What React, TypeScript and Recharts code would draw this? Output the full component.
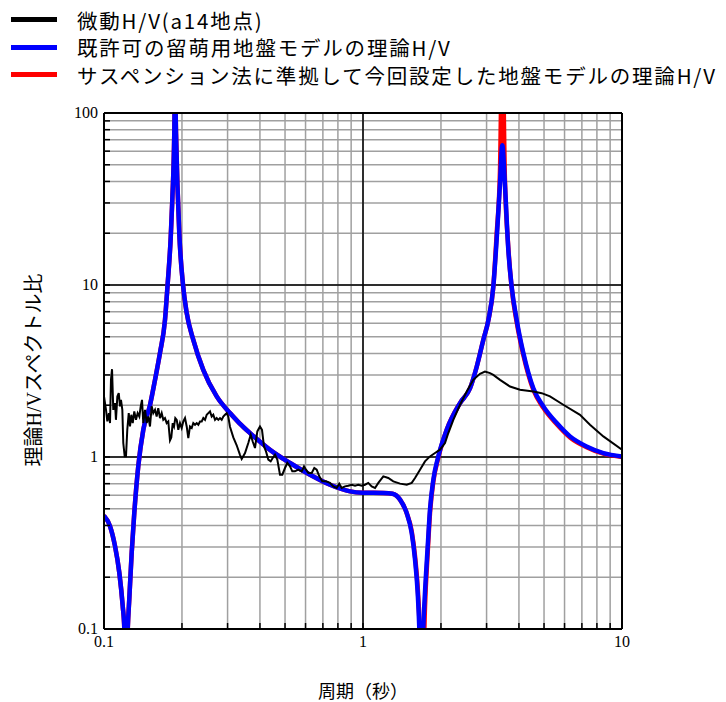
import { LineChart, Line, XAxis, YAxis, CartesianGrid, ReferenceLine } from 'recharts'

// axis ticks (log-log, 0.1-10 s / 0.1-100)
const xTicks = [0.1, 0.2, 0.3, 0.4, 0.5, 0.6, 0.7, 0.8, 0.9, 1, 2, 3, 4, 5, 6, 7, 8, 9, 10]
const yTicks = [
    0.1, 0.2, 0.3, 0.4, 0.5, 0.6, 0.7, 0.8, 0.9,
    1, 2, 3, 4, 5, 6, 7, 8, 9,
    10, 20, 30, 40, 50, 60, 70, 80, 90, 100,
]
const xLabelTicks = [0.1, 1, 10]
const yLabelTicks = [0.1, 1, 10, 100]
const majorX = [1]
const majorY = [1, 10]

// theoretical H/V, periods shared by both models
const theoryPeriods = [
    0.1, 0.1055, 0.1103, 0.1146, 0.1181, 0.1198, 0.1215, 0.1235, 0.1252, 0.1279,
    0.1309, 0.1356, 0.1418, 0.1505, 0.1574, 0.1645, 0.172, 0.176, 0.181, 0.1835,
    0.1868, 0.188, 0.1897, 0.1953, 0.2019, 0.2086, 0.2212, 0.2417, 0.2723, 0.3065,
    0.333, 0.3662, 0.4375, 0.5226, 0.6245, 0.746, 0.891, 1.0, 1.2, 1.3,
    1.39, 1.474, 1.542, 1.588, 1.626, 1.65, 1.68, 1.709, 1.735, 1.778,
    1.814, 1.869, 1.953, 2.105, 2.37, 2.59, 2.75, 2.915, 3.05, 3.185,
    3.28, 3.38, 3.45, 3.53, 3.64, 3.75, 3.92, 4.16, 4.55, 4.97,
    5.6, 6.3, 7.3, 8.47, 10,
]
// 既許可の留萌用地盤モデル (blue)
const permittedModel = [
    0.456, 0.396, 0.303, 0.212, 0.136, 0.1005, 0.04, 0.1, 0.149, 0.277,
    0.473, 0.882, 1.44, 2.0, 2.81, 4.03, 6.27, 10, 19, 31,
    76, 150, 76, 20, 10, 6.88, 4.8, 3.21, 2.25, 1.8,
    1.575, 1.378, 1.1, 0.923, 0.789, 0.69, 0.631, 0.62, 0.618, 0.612,
    0.565, 0.473, 0.362, 0.2535, 0.1625, 0.1, 0.03, 0.1, 0.1625, 0.303,
    0.494, 0.738, 1.008, 1.44, 2.06, 2.51, 3.36, 4.8, 6.27, 9.77,
    18.2, 38.9, 65, 38.9, 16, 9.77, 6.27, 4.02, 2.5, 1.97,
    1.575, 1.318, 1.152, 1.054, 1.008,
]
// サスペンション法に準拠した地盤モデル (red)
const suspensionModel = [
    0.456, 0.396, 0.303, 0.212, 0.136, 0.1005, 0.04, 0.1, 0.149, 0.277,
    0.473, 0.882, 1.44, 2.0, 2.81, 4.03, 6.27, 10, 19, 31,
    76, 150, 76, 20, 10, 6.88, 4.8, 3.21, 2.25, 1.8,
    1.575, 1.378, 1.1, 0.923, 0.789, 0.69, 0.631, 0.62, 0.618, 0.612,
    0.565, 0.473, 0.37, 0.265, 0.175, 0.115, 0.045, 0.06, 0.135, 0.28,
    0.47, 0.72, 0.99, 1.44, 2.06, 2.51, 3.36, 4.8, 6.27, 9.77,
    19.5, 46, 250, 42, 16.5, 9.6, 6.1, 3.92, 2.45, 1.93,
    1.55, 1.3, 1.14, 1.045, 1.0,
]

// 微動H/V (a14地点)
const microPeriods = [
    0.1, 0.1018, 0.103, 0.1045, 0.1055, 0.1064, 0.1074, 0.1086, 0.1103, 0.1112,
    0.1126, 0.114, 0.1153, 0.1163, 0.1177, 0.1187, 0.1202, 0.1216, 0.123, 0.1246,
    0.126, 0.1275, 0.1291, 0.1309, 0.1329, 0.1349, 0.1369, 0.1386, 0.1402, 0.1418,
    0.144, 0.1462, 0.1483, 0.1505, 0.1528, 0.155, 0.1574, 0.1597, 0.162, 0.1645,
    0.167, 0.1694, 0.172, 0.1746, 0.1771, 0.1798, 0.1819, 0.1842, 0.1864, 0.1885,
    0.1909, 0.1936, 0.1965, 0.1995, 0.2024, 0.2055, 0.2086, 0.2116, 0.2148, 0.2181,
    0.2212, 0.2246, 0.228, 0.2313, 0.2348, 0.2384, 0.2418, 0.2455, 0.2492, 0.2528,
    0.2566, 0.2605, 0.2642, 0.2683, 0.2723, 0.2763, 0.2804, 0.2847, 0.2888, 0.2932,
    0.2977, 0.3019, 0.3065, 0.3157, 0.3253, 0.335, 0.3401, 0.3503, 0.3607, 0.3685,
    0.3751, 0.3828, 0.3908, 0.4002, 0.4074, 0.4147, 0.4222, 0.4309, 0.4401, 0.448,
    0.4573, 0.4668, 0.4781, 0.488, 0.4998, 0.5102, 0.5226, 0.5333, 0.5463, 0.5626,
    0.5799, 0.5919, 0.6025, 0.615, 0.6339, 0.6486, 0.6625, 0.6781, 0.6964, 0.7195,
    0.7456, 0.768, 0.7914, 0.8098, 0.8274, 0.852, 0.8774, 0.9044, 0.9314, 0.9592,
    0.9886, 1.018, 1.048, 1.08, 1.113, 1.146, 1.198, 1.252, 1.309, 1.39,
    1.475, 1.542, 1.588, 1.66, 1.735, 1.814, 1.897, 1.983, 2.073, 2.135,
    2.232, 2.369, 2.515, 2.666, 2.83, 2.958, 3.093, 3.185, 3.381, 3.695,
    4.038, 4.545, 4.897, 5.272, 5.934, 6.884, 7.522, 8.472, 10,
]
const microHV = [
    2.25, 1.88, 1.61, 1.8, 1.575, 2.81, 3.24, 1.88, 2.06, 1.645,
    2.25, 2.35, 1.97, 2.15, 1.88, 1.206, 1.01, 1.01, 1.44, 1.8,
    1.505, 1.76, 1.575, 1.84, 1.645, 1.8, 1.72, 1.97, 2.15, 1.575,
    1.88, 1.575, 1.72, 1.505, 1.97, 1.8, 1.88, 1.72, 1.925, 1.684,
    1.8, 1.645, 1.684, 1.575, 1.61, 1.25, 1.3, 1.575, 1.505, 1.684,
    1.645, 1.44, 1.575, 1.474, 1.61, 1.684, 1.505, 1.289, 1.505, 1.474,
    1.575, 1.54, 1.575, 1.54, 1.61, 1.61, 1.684, 1.645, 1.76, 1.8,
    1.84, 1.72, 1.76, 1.645, 1.684, 1.645, 1.684, 1.645, 1.72, 1.76,
    1.8, 1.72, 1.5, 1.3, 1.17, 1.03, 0.975, 1.055, 1.206, 1.347,
    1.23, 1.128, 1.408, 1.505, 1.44, 1.152, 1.078, 0.965, 0.943, 0.987,
    1.031, 0.965, 0.789, 0.789, 0.863, 0.923, 0.882, 0.825, 0.825, 0.844,
    0.825, 0.882, 0.844, 0.808, 0.808, 0.863, 0.844, 0.772, 0.722, 0.722,
    0.707, 0.675, 0.661, 0.7, 0.661, 0.675, 0.681, 0.69, 0.681, 0.69,
    0.681, 0.69, 0.707, 0.675, 0.661, 0.707, 0.772, 0.755, 0.722, 0.7,
    0.69, 0.707, 0.755, 0.844, 0.943, 1.008, 1.055, 1.103, 1.206, 1.378,
    1.645, 2.012, 2.403, 2.81, 3.044, 3.14, 3.073, 3.004, 2.81, 2.57,
    2.458, 2.403, 2.35, 2.25, 2.012, 1.76, 1.54, 1.317, 1.103,
]

const legendItems = [
    { label: '微動H/V(a14地点)', color: '#000000' },
    { label: '既許可の留萌用地盤モデルの理論H/V', color: '#0000ff' },
    { label: 'サスペンション法に準拠して今回設定した地盤モデルの理論H/V', color: '#ff0000' },
]

const toPoints = (ts: number[], vs: number[]) => ts.map((t, i) => ({ t, v: vs[i] }))

const serif = 'Liberation Serif, serif'
const titleFont = 'Liberation Serif, Noto Sans CJK JP, serif'
const gothic = 'Noto Sans CJK JP, Noto Sans, sans-serif'

const axisLine = { stroke: '#000', strokeWidth: 2 }
const tickLine = { stroke: '#000', strokeWidth: 1.5 }

function XTick({ x, y, payload }: any) {
    if (!xLabelTicks.includes(payload.value)) return <g />
    return (
        <text x={x} y={y} dy={18} textAnchor="middle" style={{ fontFamily: serif, fontSize: 16 }} fill="#000">
            {payload.value}
        </text>
    )
}

function YTick({ x, y, payload }: any) {
    if (!yLabelTicks.includes(payload.value)) return <g />
    return (
        <text x={x - 6} y={y} dy={5} textAnchor="end" style={{ fontFamily: serif, fontSize: 16 }} fill="#000">
            {payload.value}
        </text>
    )
}

export default function App() {
    return (
        <div style={{ position: 'absolute', left: 0, top: 0, width: 726, height: 702, background: '#fff' }}>
            <LineChart width={726} height={702} margin={{ top: 112, right: 103, bottom: 43, left: 64 }}>
                <CartesianGrid stroke="#a0a0a0" strokeWidth={1.5} />
                <XAxis
                    xAxisId={0}
                    dataKey="t"
                    type="number"
                    scale="log"
                    domain={[0.1, 10]}
                    allowDataOverflow
                    ticks={xTicks}
                    interval={0}
                    height={30}
                    tickSize={-6}
                    tickMargin={6}
                    axisLine={axisLine}
                    tickLine={tickLine}
                    tick={<XTick />}
                />
                <XAxis
                    xAxisId="top"
                    orientation="top"
                    dataKey="t"
                    type="number"
                    scale="log"
                    domain={[0.1, 10]}
                    allowDataOverflow
                    ticks={xTicks}
                    interval={0}
                    height={1}
                    tickSize={-6}
                    axisLine={axisLine}
                    tickLine={tickLine}
                    tick={false}
                />
                <YAxis
                    yAxisId={0}
                    type="number"
                    scale="log"
                    domain={[0.1, 100]}
                    allowDataOverflow
                    ticks={yTicks}
                    interval={0}
                    width={40}
                    tickSize={-6}
                    tickMargin={6}
                    axisLine={axisLine}
                    tickLine={tickLine}
                    tick={<YTick />}
                />
                <YAxis
                    yAxisId="right"
                    orientation="right"
                    type="number"
                    scale="log"
                    domain={[0.1, 100]}
                    allowDataOverflow
                    ticks={yTicks}
                    interval={0}
                    width={1}
                    tickSize={-6}
                    axisLine={axisLine}
                    tickLine={tickLine}
                    tick={false}
                />
                {majorX.map(v => (
                    <ReferenceLine key={`x${v}`} x={v} xAxisId={0} yAxisId={0} stroke="#000" strokeWidth={1.5} />
                ))}
                {majorY.map(v => (
                    <ReferenceLine key={`y${v}`} y={v} xAxisId={0} yAxisId={0} stroke="#000" strokeWidth={1.5} />
                ))}
                <Line
                    data={toPoints(theoryPeriods, suspensionModel)}
                    dataKey="v"
                    type="monotone"
                    stroke="#ff0000"
                    strokeWidth={4.5}
                    dot={false}
                    isAnimationActive={false}
                />
                <Line
                    data={toPoints(theoryPeriods, permittedModel)}
                    dataKey="v"
                    type="monotone"
                    stroke="#0000ff"
                    strokeWidth={4.5}
                    dot={false}
                    isAnimationActive={false}
                />
                <Line
                    data={toPoints(microPeriods, microHV)}
                    dataKey="v"
                    type="linear"
                    stroke="#000000"
                    strokeWidth={2}
                    dot={false}
                    isAnimationActive={false}
                />
            </LineChart>

            {/* legend */}
            <div style={{ position: 'absolute', left: 0, top: 6 }}>
                {legendItems.map(item => (
                    <div key={item.label} style={{ display: 'flex', alignItems: 'center', height: 27.5 }}>
                        <div style={{ width: 46, height: 5, marginLeft: 11, background: item.color }} />
                        <div
                            style={{
                                marginLeft: 20, height: 26, lineHeight: '26px', overflow: 'visible',
                                fontFamily: gothic, fontSize: 20.5, letterSpacing: '1.8px',
                                whiteSpace: 'nowrap', color: '#000',
                            }}
                        >
                            {item.label}
                        </div>
                    </div>
                ))}
            </div>

            {/* axis titles */}
            <div
                style={{
                    position: 'absolute', left: 32, top: 370,
                    transform: 'translate(-50%, -50%) rotate(-90deg)',
                    fontFamily: titleFont, fontSize: 20, whiteSpace: 'nowrap',
                }}
            >
                理論H/Vスペクトル比
            </div>
            <div
                style={{
                    position: 'absolute', left: 363, top: 690,
                    transform: 'translate(-50%, -50%)',
                    fontFamily: titleFont, fontSize: 18, whiteSpace: 'nowrap',
                }}
            >
                周期（秒）
            </div>
        </div>
    )
}
